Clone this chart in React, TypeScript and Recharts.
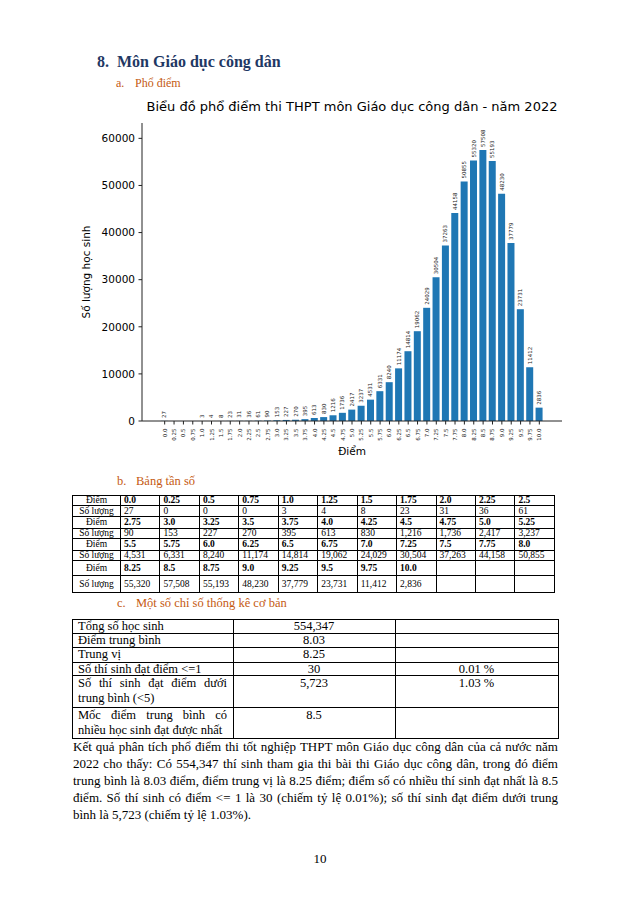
import React from 'react';
import { BarChart, Bar, XAxis, YAxis, LabelList } from 'recharts';

const scores: string[] = [
  '0.0', '0.25', '0.5', '0.75', '1.0', '1.25', '1.5', '1.75', '2.0', '2.25', '2.5',
  '2.75', '3.0', '3.25', '3.5', '3.75', '4.0', '4.25', '4.5', '4.75', '5.0', '5.25',
  '5.5', '5.75', '6.0', '6.25', '6.5', '6.75', '7.0', '7.25', '7.5', '7.75', '8.0',
  '8.25', '8.5', '8.75', '9.0', '9.25', '9.5', '9.75', '10.0',
];
const counts: number[] = [
  27, 0, 0, 0, 3, 4, 8, 23, 31, 36, 61,
  90, 153, 227, 270, 395, 613, 830, 1216, 1736, 2417, 3237,
  4531, 6331, 8240, 11174, 14814, 19062, 24029, 30504, 37263, 44158, 50855,
  55320, 57508, 55193, 48230, 37779, 23731, 11412, 2836,
];
const yTicks: number[] = [0, 10000, 20000, 30000, 40000, 50000, 60000];
const yMax = 63259;

const statRows: [string, string, string][] = [
  ['Tổng số học sinh', '554,347', ''],
  ['Điểm trung bình', '8.03', ''],
  ['Trung vị', '8.25', ''],
  ['Số thí sinh đạt điểm <=1', '30', '0.01 %'],
  ['Số thí sinh đạt điểm dưới trung bình (<5)', '5,723', '1.03 %'],
  ['Mốc điểm trung bình có nhiều học sinh đạt được nhất', '8.5', ''],
];
const statRowHeights = [14, 14, 15, 13, 32, 31];

const data = scores.map((s, i) => ({ score: s, count: counts[i] }));

const SANS = 'DejaVu Sans, sans-serif';
const SERIF = '"Liberation Serif", "Times New Roman", serif';

const XTick = (props: any) => {
  const { x, y, payload } = props;
  return (
    <g transform={`translate(${x},${y})`}>
      <text
        transform="rotate(-90)"
        x={-2}
        y={0}
        textAnchor="end"
        dominantBaseline="central"
        fontSize={5.5}
        fontFamily={SANS}
        fill="#222"
      >
        {payload.value}
      </text>
    </g>
  );
};

const BarLabel = (props: any) => {
  const { x, y, width, value } = props;
  const cx = x + width / 2;
  const ty = y - 3;
  return (
    <text
      transform={`rotate(-90, ${cx}, ${ty})`}
      x={cx}
      y={ty}
      textAnchor="start"
      dominantBaseline="central"
      fontSize={5.5}
      fontFamily={SANS}
      fill="#222"
    >
      {String(value)}
    </text>
  );
};

const fmt = (n: number) => n.toLocaleString('en-US');

function chunk<T>(arr: T[], n: number): T[][] {
  const out: T[][] = [];
  for (let i = 0; i < arr.length; i += n) out.push(arr.slice(i, i + n));
  return out;
}

const FreqTable = () => {
  const sc = chunk(scores, 11);
  const ct = chunk(counts, 11);
  const rowH = [10, 11, 12, 10, 12, 10, 15, 17];
  const rows: { label: string; cells: string[]; bold: boolean }[] = [];
  sc.forEach((r, i) => {
    rows.push({ label: 'Điểm', cells: r, bold: true });
    rows.push({ label: 'Số lượng', cells: ct[i].map(fmt), bold: false });
  });
  const cellBase: React.CSSProperties = {
    border: '1px solid #000',
    padding: '0 0 0 3px',
    fontSize: 9.5,
    lineHeight: '9px',
    whiteSpace: 'nowrap',
    overflow: 'hidden',
    fontFamily: SERIF,
  };
  return (
    <table
      style={{
        position: 'absolute',
        left: 72,
        top: 495,
        width: 482,
        borderCollapse: 'collapse',
        tableLayout: 'fixed',
        fontFamily: SERIF,
        border: '1.5px solid #000',
      }}
    >
      <colgroup>
        <col style={{ width: 48 }} />
        {Array.from({ length: 11 }).map((_, i) => (
          <col key={i} style={{ width: 39.45 }} />
        ))}
      </colgroup>
      <tbody>
        {rows.map((row, ri) => (
          <tr key={ri} style={{ height: rowH[ri] }}>
            <td style={{ ...cellBase, textAlign: 'center', padding: 0 }}>{row.label}</td>
            {Array.from({ length: 11 }).map((_, ci) => (
              <td key={ci} style={{ ...cellBase, fontWeight: row.bold ? 'bold' : 'normal' }}>
                {row.cells[ci] ?? ''}
              </td>
            ))}
          </tr>
        ))}
      </tbody>
    </table>
  );
};

const StatTable = () => {
  const cell: React.CSSProperties = {
    border: '1px solid #000',
    fontSize: 12.5,
    verticalAlign: 'top',
    padding: '0 6px 0 5px',
    fontFamily: SERIF,
  };
  return (
    <table
      style={{
        position: 'absolute',
        left: 72,
        top: 619,
        width: 486,
        borderCollapse: 'collapse',
        tableLayout: 'fixed',
        fontFamily: SERIF,
      }}
    >
      <colgroup>
        <col style={{ width: 161 }} />
        <col style={{ width: 162 }} />
        <col style={{ width: 163 }} />
      </colgroup>
      <tbody>
        {statRows.map((r, i) => {
          const lh = statRowHeights[i] > 20 ? '15px' : '12px';
          return (
            <tr key={i} style={{ height: statRowHeights[i] }}>
              <td style={{ ...cell, lineHeight: lh, textAlign: 'justify' }}>{r[0]}</td>
              <td style={{ ...cell, lineHeight: lh, textAlign: 'center' }}>{r[1]}</td>
              <td style={{ ...cell, lineHeight: lh, textAlign: 'center' }}>{r[2]}</td>
            </tr>
          );
        })}
      </tbody>
    </table>
  );
};

export default function App() {
  return (
    <div
      style={{
        position: 'absolute',
        left: 0,
        top: 0,
        width: 640,
        height: 905,
        background: '#fff',
        overflow: 'hidden',
        fontFamily: SERIF,
        color: '#000',
      }}
    >
      <div
        style={{
          position: 'absolute',
          left: 97,
          top: 53,
          fontSize: 16,
          lineHeight: '18px',
          fontWeight: 'bold',
          color: '#1F3864',
          whiteSpace: 'nowrap',
          fontFamily: SERIF,
        }}
      >
        8.&nbsp;&nbsp;Môn Giáo dục công dân
      </div>
      <div
        style={{
          position: 'absolute',
          left: 116,
          top: 76,
          fontSize: 12,
          lineHeight: '14px',
          color: '#C55A11',
          whiteSpace: 'nowrap',
          fontFamily: SERIF,
        }}
      >
        <span style={{ display: 'inline-block', width: 19 }}>a.</span>Phổ điểm
      </div>

      <div
        style={{
          position: 'absolute',
          left: 142,
          top: 99,
          width: 420,
          textAlign: 'center',
          fontFamily: SANS,
          fontSize: 13,
          lineHeight: '16px',
          whiteSpace: 'nowrap',
        }}
      >
        Biểu đồ phổ điểm thi THPT môn Giáo dục công dân - năm 2022
      </div>

      <div style={{ position: 'absolute', left: 60, top: 100 }}>
        <BarChart
          width={520}
          height={360}
          data={data}
          margin={{ top: 23, right: 18, bottom: 5, left: 22 }}
          barCategoryGap="10%"
        >
          <XAxis
            dataKey="score"
            interval={0}
            padding={{ left: 18, right: 18 }}
            tick={<XTick />}
            tickSize={3.5}
            tickLine={{ stroke: '#222' }}
            axisLine={{ stroke: '#222' }}
            height={34}
            label={{
              value: 'Điểm',
              position: 'insideBottom',
              offset: 0,
              fontSize: 10.5,
              fontFamily: SANS,
              fill: '#000',
            }}
          />
          <XAxis
            xAxisId="top"
            dataKey="score"
            orientation="top"
            height={0}
            tick={false}
            tickLine={false}
            axisLine={{ stroke: '#222' }}
          />
          <YAxis
            type="number"
            domain={[0, yMax]}
            ticks={yTicks}
            width={60}
            tickSize={3.5}
            tickMargin={3.5}
            tick={{ fontSize: 10.5, fontFamily: SANS, fill: '#000' }}
            tickLine={{ stroke: '#222' }}
            axisLine={{ stroke: '#222' }}
            label={{
              value: 'Số lượng học sinh',
              angle: -90,
              position: 'insideLeft',
              offset: 4,
              fontSize: 10.5,
              fontFamily: SANS,
              fill: '#000',
              style: { textAnchor: 'middle' },
            }}
          />
          <YAxis
            yAxisId="right"
            orientation="right"
            width={0}
            tick={false}
            tickLine={false}
            axisLine={{ stroke: '#222' }}
          />
          <Bar dataKey="count" fill="#1f77b4" isAnimationActive={false}>
            <LabelList dataKey="count" content={<BarLabel />} />
          </Bar>
        </BarChart>
      </div>

      <div
        style={{
          position: 'absolute',
          left: 117,
          top: 474,
          fontSize: 12.5,
          lineHeight: '15px',
          color: '#C55A11',
          whiteSpace: 'nowrap',
          fontFamily: SERIF,
        }}
      >
        <span style={{ display: 'inline-block', width: 19 }}>b.</span>Bảng tần số
      </div>

      <FreqTable />

      <div
        style={{
          position: 'absolute',
          left: 117,
          top: 596,
          fontSize: 12.5,
          lineHeight: '15px',
          color: '#C55A11',
          whiteSpace: 'nowrap',
          fontFamily: SERIF,
        }}
      >
        <span style={{ display: 'inline-block', width: 19 }}>c.</span>Một số chỉ số thống kê cơ bản
      </div>

      <StatTable />

      <div
        style={{
          position: 'absolute',
          left: 73,
          top: 738,
          width: 485,
          fontSize: 13,
          lineHeight: '17px',
          textAlign: 'justify',
          fontFamily: SERIF,
        }}
      >
        Kết quả phân tích phổ điểm thi tốt nghiệp THPT môn Giáo dục công dân của cả nước năm
        2022 cho thấy: Có 554,347 thí sinh tham gia thi bài thi Giáo dục công dân, trong đó điểm
        trung bình là 8.03 điểm, điểm trung vị là 8.25 điểm; điểm số có nhiều thí sinh đạt nhất là 8.5
        điểm. Số thí sinh có điểm &lt;= 1 là 30 (chiếm tỷ lệ 0.01%); số thí sinh đạt điểm dưới trung
        bình là 5,723 (chiếm tỷ lệ 1.03%).
      </div>

      <div
        style={{
          position: 'absolute',
          left: 0,
          width: 640,
          top: 851,
          textAlign: 'center',
          fontSize: 13,
          lineHeight: '16px',
          fontFamily: SERIF,
        }}
      >
        10
      </div>
    </div>
  );
}
